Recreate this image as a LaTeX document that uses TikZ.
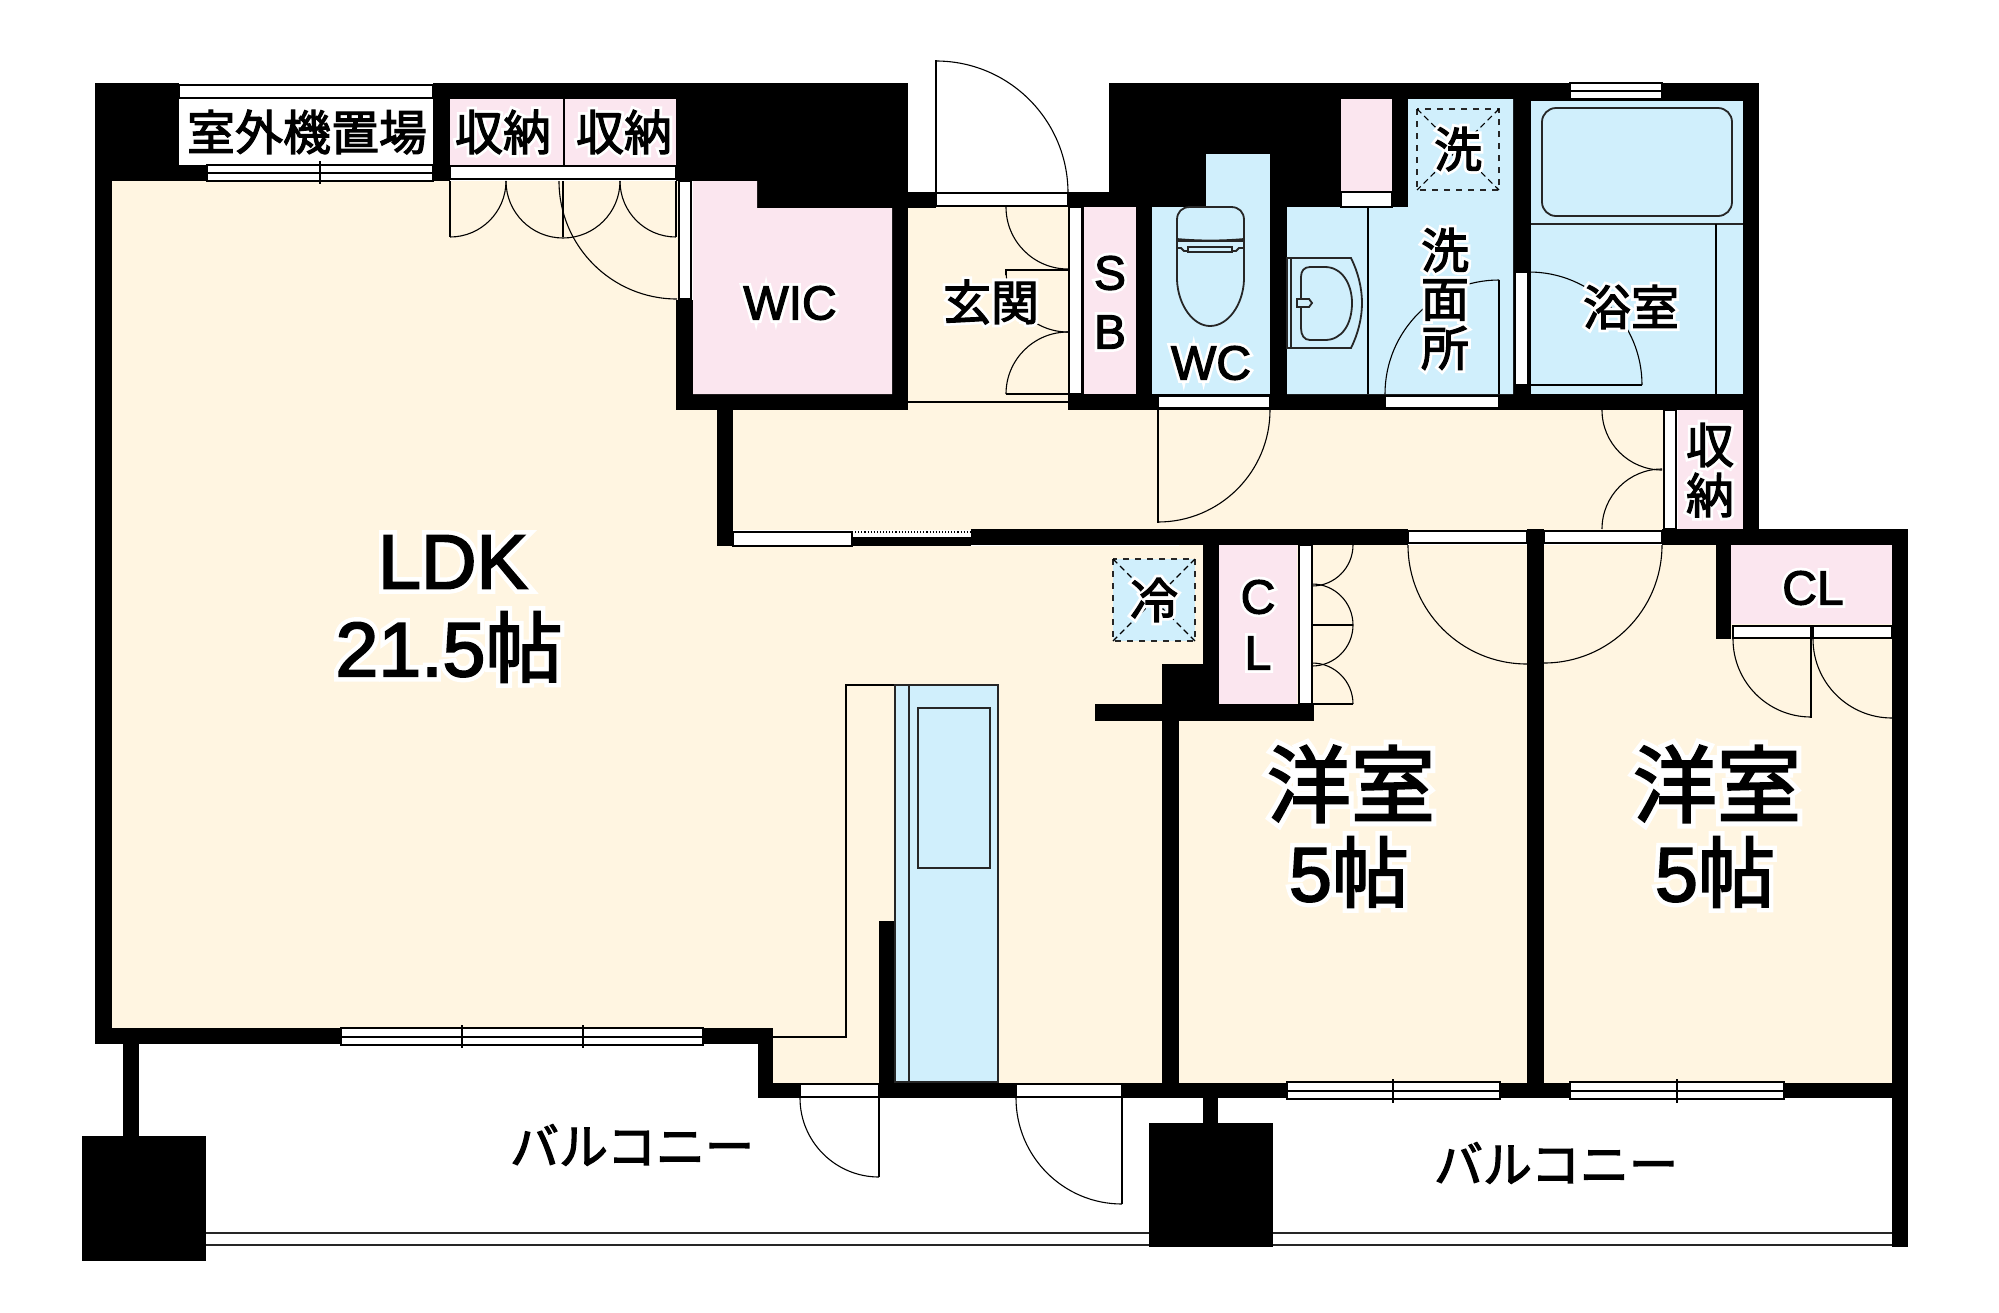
\documentclass[tikz,border=0pt]{standalone}
\usepackage{xcolor}
\usepackage{fontspec}
\setmainfont[FakeBold=2.5]{Liberation Sans}
\newfontfamily\sanshalo[FakeBold=14]{Liberation Sans}
\newfontfamily\cjk[FakeBold=2.5]{Noto Sans CJK JP}
\newfontfamily\cjkhalo[FakeBold=14]{Noto Sans CJK JP}
\definecolor{floorYellow}{RGB}{255, 245, 225}
\definecolor{closetPink}{RGB}{251, 230, 239}
\definecolor{wetBlue}{RGB}{208, 239, 252}
\newcommand{\halocjk}[1]{\makebox[0pt][l]{\color{white}\cjkhalo #1}{\cjk #1}}
\newcommand{\halosans}[1]{\makebox[0pt][l]{\color{white}\sanshalo #1}#1}
\newcommand{\doorarc}[5]{\draw[doorline] (#1,#2) ++(#4:#3) arc[start angle=#4, end angle=#5, radius=#3];}
\tikzset{
  wall/.style={fill=black},
  strip/.style={fill=white,draw=black,line width=0.6pt},
  doorline/.style={draw=black,line width=0.55pt},
  fixture/.style={draw=black!85,line width=0.9pt},
  biglabel/.style={inner sep=0pt,font=\fontsize{38.5}{40}\selectfont},
  roomlabel/.style={inner sep=0pt,font=\fontsize{24}{26}\selectfont},
}
\begin{document}
\begin{tikzpicture}[x=0.5pt,y=-0.5pt]
    \useasboundingbox (0,0) rectangle (1999,1313);
    \fill[white] (0,0) rectangle (1999,1313);

    % Floors
    \fill[floorYellow] (112,181) -- (680,181) -- (680,410) -- (720,410) -- (720,546) -- (1203,546) -- (1203,704) -- (1162,704) -- (1162,1084) -- (773,1084) -- (773,1029) -- (112,1029) -- cycle;
    \fill[floorYellow] (733,410) rectangle (1664,530);
    \fill[floorYellow] (908,207) rectangle (1068,410);
    \fill[floorYellow] (1179,545) rectangle (1527,1084);
    \fill[floorYellow] (1544,545) rectangle (1892,1084);

    % Walls
    \foreach \xa/\ya/\xb/\yb in {95/83/179/181, 179/165/207/181, 95/181/112/1044, 95/1028/341/1044,
        703/1028/773/1044, 758/1044/773/1098, 758/1083/800/1098, 879/921/895/1098, 895/1083/1017/1098,
        1122/1083/1287/1098, 1162/721/1179/1098, 1500/1083/1570/1098, 1784/1083/1908/1098, 1527/529/1544/1098,
        1892/529/1908/1247, 123/1044/139/1136, 82/1136/206/1261, 1203/1098/1218/1123, 1149/1123/1273/1247,
        433/83/908/99, 433/83/450/181, 676/83/908/181, 757/181/908/208, 908/192/936/208, 892/208/908/410,
        676/300/693/410, 676/394/908/410, 717/410/733/546, 1068/192/1109/207, 1109/83/1408/207, 1408/83/1759/101,
        1513/83/1531/410, 1743/83/1759/529, 1068/394/1759/410, 1136/207/1152/394, 1270/207/1287/394,
        1068/207/1084/394, 971/529/1408/545, 1662/529/1908/545, 1203/545/1219/704, 1162/664/1219/704,
        1095/704/1314/721, 1716/545/1731/639, 852/537/971/546}
        \fill[wall] (\xa,\ya) rectangle (\xb,\yb);

    % Closets
    \fill[closetPink] (450,99) rectangle (676,165);
    \fill[closetPink] (693,181) -- (757,181) -- (757,208) -- (892,208) -- (892,394) -- (693,394) -- cycle;
    \fill[closetPink] (1084,207) rectangle (1136,394);
    \fill[closetPink] (1341,99) rectangle (1392,192);
    \fill[closetPink] (1678,410) rectangle (1743,529);
    \fill[closetPink] (1219,545) rectangle (1297,704);
    \fill[closetPink] (1731,545) rectangle (1892,624);
    \draw[doorline] (564,99) -- (564,165);

    % Wet rooms
    \fill[wetBlue] (1152,207) rectangle (1270,394);
    \fill[wetBlue] (1206,154) rectangle (1270,207);
    \fill[wetBlue] (1287,207) -- (1408,207) -- (1408,99) -- (1513,99) -- (1513,394) -- (1287,394) -- cycle;
    \fill[wetBlue] (1531,101) rectangle (1743,394);
    \fill[wetBlue] (1113,559) rectangle (1195,641);
    \draw[doorline] (1368,207) -- (1368,394);
    \draw[fixture] (1531,224) -- (1743,224);
    \draw[doorline] (1716,224) -- (1716,394);

    % Bath, toilet, basin
    \draw[fixture,rounded corners=7pt] (1542,108) rectangle (1732,216);
    \draw[fixture] (1177,239) -- (1177,220) .. controls (1177,212) and (1182,207) .. (1190,207) -- (1231,207) .. controls (1239,207) and (1244,212) .. (1244,220) -- (1244,239) .. controls (1222,241) and (1199,241) .. (1177,239) -- cycle;
    \draw[fixture] (1177,241) -- (1244,241) -- (1244,280) .. controls (1243,305) and (1228,326) .. (1210,326) .. controls (1193,326) and (1178,305) .. (1177,280) -- cycle;
    \draw[fixture] (1177,248) -- (1181,248) -- (1184,251) -- (1188,251) (1232,251) -- (1236,251) -- (1239,248) -- (1244,248);
    \draw[fixture] (1188,247) rectangle (1232,252);
    \draw[fixture] (1287,258) -- (1351,258) .. controls (1358,272) and (1362,288) .. (1362,303) .. controls (1362,318) and (1358,334) .. (1351,348) -- (1287,348) -- cycle;
    \draw[fixture] (1291,258) -- (1291,348);
    \draw[fixture] (1310,267) -- (1325,267) .. controls (1342,267) and (1352,284) .. (1352,303) .. controls (1352,324) and (1342,340) .. (1325,340) -- (1310,340) .. controls (1304,340) and (1301,335) .. (1301,328) -- (1301,277) .. controls (1301,271) and (1304,267) .. (1310,267) -- cycle;
    \draw[fixture,fill=wetBlue] (1297,299) -- (1309,299) -- (1312,303) -- (1309,307) -- (1297,307) -- cycle;

    % Laundry and fridge places
    \draw[fixture,dashed] (1417,109) rectangle (1499,190);
    \draw[doorline,densely dashed] (1417,109) -- (1499,190) (1499,109) -- (1417,190);
    \draw[fixture,dashed] (1113,559) rectangle (1195,641);
    \draw[doorline,densely dashed] (1113,559) -- (1195,641) (1195,559) -- (1113,641);

    % Kitchen
    \draw[doorline] (895,685) -- (846,685) -- (846,1037) -- (773,1037);
    \draw[fixture,fill=wetBlue] (895,685) rectangle (998,1082);
    \draw[fixture] (909,685) -- (909,1082);
    \draw[fixture] (918,708) rectangle (990,868);

    % Door strips
    \foreach \xa/\ya/\xb/\yb in {179/85/433/98, 450/166/676/179, 679/181/691/299, 936/193/1068/206, 1069/207/1082/394,
        1158/396/1270/408, 1385/396/1499/408, 1515/272/1528/385, 1664/410/1676/529, 1408/531/1527/543, 1544/531/1662/543,
        1299/545/1312/704, 1733/626/1811/638, 1813/626/1892/638, 733/532/852/546, 800/1084/879/1097, 1016/1084/1122/1097,
        1341/192/1392/207}
        \draw[strip] (\xa,\ya) rectangle (\xb,\yb);
    \draw[doorline,densely dotted] (852,532) -- (971,532);

    % Windows
    \foreach \xa/\xb/\ya/\ym/\yb in {207/433/165/173/181, 341/703/1028/1037/1045, 1287/1500/1082/1091/1099, 1570/1784/1082/1091/1099, 1570/1662/83/91/99}
        \draw[strip] (\xa,\ya) rectangle (\xb,\yb) (\xa,\ym) -- (\xb,\ym);
    \foreach \xt/\ya/\yb in {320/161/184, 462/1025/1048, 583/1025/1048, 1393/1079/1103, 1677/1079/1103}
        \draw[doorline] (\xt,\ya) -- (\xt,\yb);

    % Doors
    \draw[doorline] (450,181) -- (450,237) (563,181) -- (563,237) (676,181) -- (676,237);
    \doorarc{450}{181}{56}{90}{0}
    \doorarc{563}{181}{57}{180}{90}
    \doorarc{563}{181}{57}{90}{0}
    \doorarc{676}{181}{56}{180}{90}
    \doorarc{677}{181}{118}{180}{90}
    \draw[doorline] (936,60) -- (936,193);
    \doorarc{936}{193}{132}{270}{360}
    \draw[doorline] (1006,275) -- (1006,270) -- (1068,270) (1006,394) -- (1068,394) (908,402) -- (1068,402) (1664,410) -- (1664,529);
    \doorarc{1068}{207}{62}{180}{90}
    \doorarc{1068}{270}{62}{180}{90}
    \doorarc{1068}{394}{62}{270}{180}
    \draw[doorline] (1158,410) -- (1158,523) (1499,280) -- (1499,394) (1529,385) -- (1642,385);
    \doorarc{1158}{410}{112}{0}{90}
    \doorarc{1499}{394}{114}{180}{270}
    \doorarc{1529}{385}{113}{0}{-90}
    \doorarc{1662}{410}{60}{180}{90}
    \doorarc{1662}{529}{60}{270}{180}
    \doorarc{1527}{545}{119}{180}{90}
    \doorarc{1544}{545}{118}{0}{90}
    \draw[doorline] (1811,639) -- (1811,718) (1312,625) -- (1353,625) (1312,704) -- (1353,704);
    \doorarc{1811}{639}{78}{180}{90}
    \doorarc{1892}{639}{79}{180}{90}
    \doorarc{1312}{545}{41}{0}{90}
    \doorarc{1312}{625}{41}{-90}{0}
    \doorarc{1312}{625}{41}{0}{90}
    \doorarc{1312}{704}{41}{-90}{0}
    \draw[doorline] (879,1098) -- (879,1177) (1122,1098) -- (1122,1204);
    \doorarc{879}{1098}{79}{180}{90}
    \doorarc{1122}{1098}{106}{180}{90}

    % Balcony rail
    \draw[fixture] (206,1233) -- (1149,1233) (206,1245) -- (1149,1245);
    \draw[fixture] (1273,1233) -- (1892,1233) (1273,1245) -- (1892,1245);

    % Labels
    \node[roomlabel] (outdoorunit) at (307,132) {{\cjk 室外機置場}};
    \node[roomlabel] (storagea) at (503,132) {\halocjk{収納}};
    \node[roomlabel] (storageb) at (624,132) {\halocjk{収納}};
    \node[roomlabel] (wic) at (790,303) {\halosans{WIC}};
    \node[roomlabel] (entry) at (991,302) {\halocjk{玄関}};
    \node[roomlabel] (sbs) at (1110,273) {\halosans{S}};
    \node[roomlabel] (sbb) at (1110,332) {\halosans{B}};
    \node[roomlabel] (wc) at (1211,363) {\halosans{WC}};
    \node[roomlabel] (washer) at (1458,149) {\halocjk{洗}};
    \node[roomlabel] (washa) at (1445,250) {\halocjk{洗}};
    \node[roomlabel] (washb) at (1445,300) {\halocjk{面}};
    \node[roomlabel] (washc) at (1445,348) {\halocjk{所}};
    \node[roomlabel] (bath) at (1631,307) {\halocjk{浴室}};
    \node[roomlabel] (storagec) at (1710,445) {\halocjk{収}};
    \node[roomlabel] (storaged) at (1710,495) {\halocjk{納}};
    \node[roomlabel] (fridge) at (1154,600) {\halocjk{冷}};
    \node[roomlabel] (cla) at (1258,597) {\halosans{C}};
    \node[roomlabel] (clb) at (1258,653) {\halosans{L}};
    \node[roomlabel] (clright) at (1813,588) {\halosans{CL}};
    \node[biglabel] (ldk) at (453,562) {\halosans{LDK}};
    \node[biglabel] (ldksize) at (449,647) {\halosans{21.5}\halocjk{帖}};
    \node[biglabel,font=\fontsize{42}{44}\selectfont] (rooma) at (1351,784) {\halocjk{洋室}};
    \node[biglabel] (roomasize) at (1349,872) {\halosans{5}\halocjk{帖}};
    \node[biglabel,font=\fontsize{42}{44}\selectfont] (roomb) at (1717,784) {\halocjk{洋室}};
    \node[biglabel] (roombsize) at (1715,872) {\halosans{5}\halocjk{帖}};
    \node[roomlabel,font=\fontsize{24.5}{26}\selectfont] (balconya) at (632,1145) {{\cjk バルコニー}};
    \node[roomlabel,font=\fontsize{24.5}{26}\selectfont] (balconyb) at (1556,1163) {{\cjk バルコニー}};
\end{tikzpicture}
\end{document}
